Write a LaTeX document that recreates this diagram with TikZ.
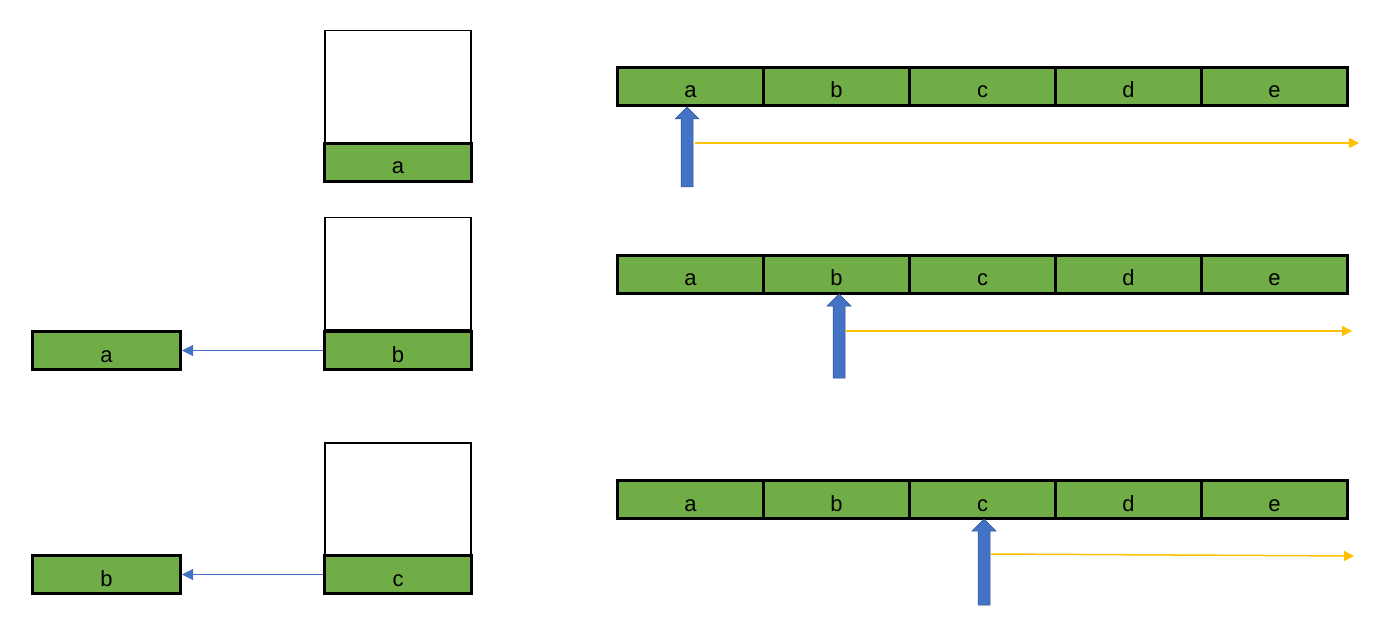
\documentclass[tikz,border=0pt]{standalone}
\usepackage{fontspec}
\setmainfont{Liberation Sans}
\usetikzlibrary{arrows.meta,calc}
\definecolor{cellgreen}{HTML}{70AD47}
\definecolor{arrblue}{HTML}{4472C4}
\definecolor{arrblueline}{HTML}{2F528F}
\definecolor{scanyellow}{HTML}{FFC000}
\begin{document}
\begin{tikzpicture}[x=1pt,y=-1pt,
  cell/.style={draw=black,line width=3pt,fill=cellgreen,minimum width=146pt,minimum height=38pt,inner sep=0pt,font=\fontsize{22}{22}\selectfont,text height=23pt,text depth=0pt,anchor=north west},
  stackbox/.style={draw=black,line width=1.5pt,fill=white,minimum width=146pt,minimum height=112pt,inner sep=0pt,anchor=north west},
  popline/.style={draw=arrblue,line width=1pt,-{Triangle[length=11pt,width=11pt]}},
  scanline/.style={draw=scanyellow,line width=1.5pt,-{Triangle[length=10pt,width=10pt]}},
  blockarrow/.style={fill=arrblue,draw=arrblueline,line width=0.5pt}]
\useasboundingbox (0,0) rectangle (1394,620);

% ---- Row 1 stack
\node[stackbox] (s1) at (324,30) {};
\node[cell,minimum width=147pt] (t1) at (323,142) {a};

% ---- Row 2 stack
\node[stackbox] (s2) at (324,217) {};
\node[cell,minimum width=147pt] (t2) at (323,330) {b};
\node[cell,minimum width=148pt] (p2) at (31,330) {a};
\draw[popline] (t2.west) -- (p2.east);

% ---- Row 3 stack
\node[stackbox] (s3) at (324,442) {};
\node[cell,minimum width=147pt] (t3) at (323,554) {c};
\node[cell,minimum width=148pt] (p3) at (31,554) {b};
\draw[popline] (t3.west) -- (p3.east);

% ---- Arrays
\foreach \r/\y in {1/66,2/254,3/479}{
  \node[cell] (r\r a) at (616,\y) {a};
  \node[cell] (r\r b) at (762,\y) {b};
  \node[cell] (r\r c) at (908,\y) {c};
  \node[cell] (r\r d) at (1054,\y) {d};
  \node[cell] (r\r e) at (1200,\y) {e};
}

% ---- pointers (block arrows) and scan lines
\coordinate (k1) at (687,107);
\coordinate (k2) at (839,294);
\coordinate (k3) at (984,519);
\foreach \r/\len in {1/80,2/84,3/86}{
  \path[blockarrow] (k\r) -- ++(12,12) -- ++(-6,0) -- ++(0,\len-12) -- ++(-12,0) -- ++(0,-\len+12) -- ++(-6,0) -- cycle;
}
\coordinate (y1s) at (695,143);
\coordinate (y1e) at (1359,143);
\coordinate (y2s) at (846,331);
\coordinate (y2e) at (1352,331);
\coordinate (y3s) at (991,554);
\coordinate (y3e) at (1354,556);
\draw[scanline] (y1s) -- (y1e);
\draw[scanline] (y2s) -- (y2e);
\draw[scanline] (y3s) -- (y3e);
\end{tikzpicture}
\end{document}
